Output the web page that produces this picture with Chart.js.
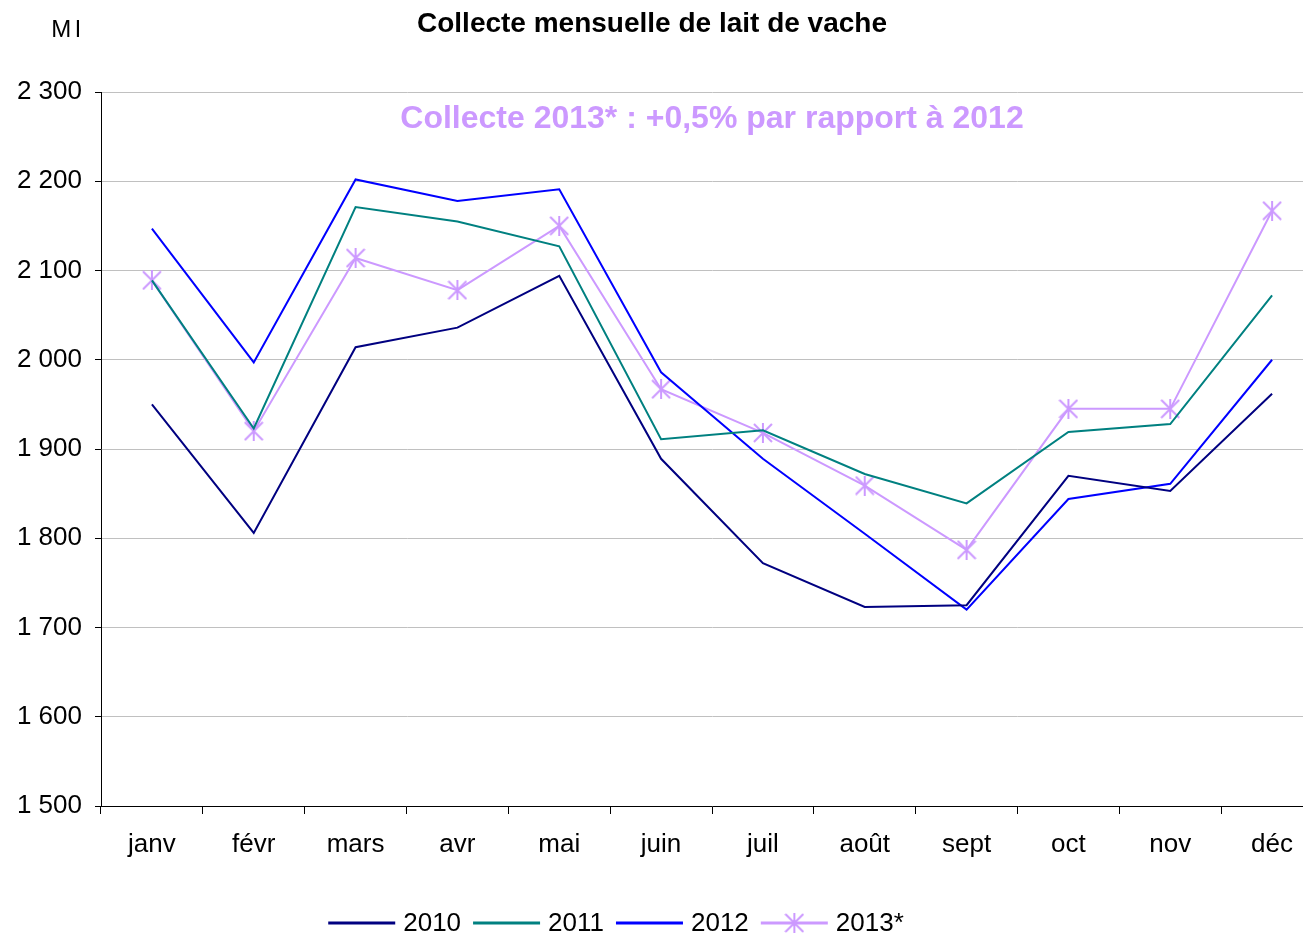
<!DOCTYPE html>
<html lang="fr">
<head>
<meta charset="UTF-8">
<title>Collecte mensuelle de lait de vache</title>
<script src="https://cdn.jsdelivr.net/npm/chart.js"></script>
<style>
    * { margin: 0; padding: 0; box-sizing: border-box; }
    body { background: #fff; overflow: hidden; width: 1303px; height: 936px; }
    .wrap { position: relative; width: 1335px; height: 936px; }
</style>
</head>
<body>
<div class="wrap"><canvas id="lait"></canvas></div>
<script>
    // Données (millions de litres)
    const mois = ['janv', 'févr', 'mars', 'avr', 'mai', 'juin', 'juil', 'août', 'sept', 'oct', 'nov', 'déc'];
    const annees = ['2010', '2011', '2012', '2013*'];
    const v2010 = [1950, 1806, 2014, 2036, 2094, 1889, 1772, 1723, 1725, 1870, 1853, 1962];
    const v2011 = [2089, 1923, 2171, 2155, 2127, 1911, 1921, 1872, 1839, 1919, 1928, 2072];
    const v2012 = [2147, 1997, 2202, 2178, 2191, 1986, 1889, 1805, 1720, 1844, 1861, 2000];
    const v2013 = [2089, 1920, 2114, 2078, 2150, 1967, 1918, 1859, 1787, 1945, 1945, 2167];
    const couleurs = ['#000080', '#008080', '#0000ff', '#cc99ff'];
    const yMin = 1500, yMax = 2300, yPas = 100;

    const police = '"Liberation Sans", Arial, sans-serif';

    // marqueur étoile façon Excel (X + barre verticale)
    function etoile(size, color) {
        const c = document.createElement('canvas');
        c.width = size; c.height = size;
        const g = c.getContext('2d');
        g.strokeStyle = color;
        g.lineWidth = 2;
        g.beginPath();
        g.moveTo(1, 1); g.lineTo(size - 1, size - 1);
        g.moveTo(size - 1, 1); g.lineTo(1, size - 1);
        g.moveTo(size / 2, 0); g.lineTo(size / 2, size);
        g.stroke();
        return c;
    }
    const marqueur = etoile(20, couleurs[3]);

    function serie(label, data, color, avecPoints) {
        return {
            label: label,
            data: data,
            borderColor: color,
            backgroundColor: color,
            borderWidth: 2,
            tension: 0,
            pointRadius: avecPoints ? 10 : 0,
            pointHoverRadius: avecPoints ? 10 : 0,
            pointStyle: avecPoints ? marqueur : 'circle'
        };
    }

    // titre, unité, annotation et légende dessinés à la main
    const decor = {
        id: 'decor',
        afterDraw(chart) {
            const ctx = chart.ctx;
            ctx.save();
            ctx.fillStyle = '#000';
            ctx.textBaseline = 'middle';
            ctx.textAlign = 'center';
            ctx.font = 'bold 28px ' + police;
            ctx.fillText('Collecte mensuelle de lait de vache', 652, 24);

            ctx.font = '24px ' + police;
            ctx.letterSpacing = '4px';
            ctx.fillText('Ml', 68, 30);
            ctx.letterSpacing = '0px';

            ctx.fillStyle = couleurs[3];
            ctx.font = 'bold 32px ' + police;
            ctx.fillText('Collecte 2013* : +0,5% par rapport à 2012', 712, 119);

            // légende
            ctx.font = '26px ' + police;
            ctx.textAlign = 'left';
            const lng = 67, gap = 8, esp = 12, y = 923;
            const largeurs = annees.map(a => ctx.measureText(a).width);
            let total = largeurs.reduce((s, w) => s + lng + gap + w, 0) + esp * (annees.length - 1);
            let x = 616 - total / 2;
            annees.forEach((a, i) => {
                ctx.strokeStyle = couleurs[i];
                ctx.lineWidth = 3;
                ctx.beginPath();
                ctx.moveTo(x, y); ctx.lineTo(x + lng, y);
                ctx.stroke();
                if (i === 3) ctx.drawImage(marqueur, x + lng / 2 - 10, y - 10);
                ctx.fillStyle = '#000';
                ctx.fillText(a, x + lng + gap, y + 1);
                x += lng + gap + largeurs[i] + esp;
            });
            ctx.restore();
        }
    };

    new Chart(document.getElementById('lait'), {
        type: 'line',
        data: {
            labels: mois,
            datasets: [
                serie(annees[0], v2010, couleurs[0], false),
                serie(annees[1], v2011, couleurs[1], false),
                serie(annees[2], v2012, couleurs[2], false),
                serie(annees[3], v2013, couleurs[3], true)
            ]
        },
        options: {
            responsive: true,
            maintainAspectRatio: false,
            animation: false,
            layout: { padding: { top: 92, right: 2, left: 0, bottom: 0 } },
            plugins: {
                legend: { display: false },
                title: { display: false },
                tooltip: { enabled: false }
            },
            scales: {
                x: {
                    offset: true,
                    afterFit(s) { s.height = 130; },
                    grid: { display: true, drawOnChartArea: false, offset: true, color: '#000', tickLength: 8 },
                    border: { display: true, color: '#000', width: 1 },
                    ticks: { color: '#000', padding: 15, font: { family: police, size: 26 } }
                },
                y: {
                    min: yMin,
                    max: yMax,
                    afterFit(s) { s.width = 101; },
                    grid: { color: '#c0c0c0', tickLength: 6, tickColor: '#000' },
                    border: { display: true, color: '#000', width: 1 },
                    ticks: {
                        stepSize: yPas,
                        color: '#000',
                        padding: 13,
                        font: { family: police, size: 26 },
                        callback: v => v.toLocaleString('fr-FR').replace(/\s/g, ' ')
                    }
                }
            }
        },
        plugins: [decor]
    });
</script>
</body>
</html>
